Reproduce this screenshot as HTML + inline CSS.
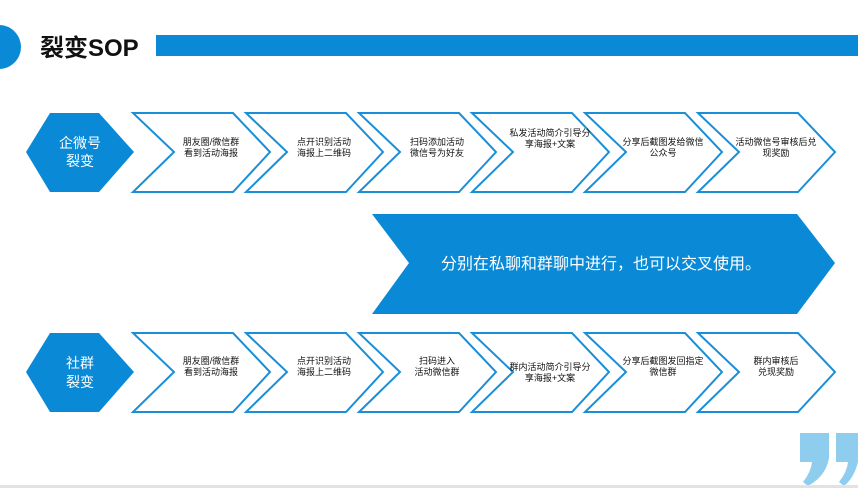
<!DOCTYPE html>
<html><head><meta charset="utf-8"><style>
html,body{margin:0;padding:0;background:#fff;}
svg{display:block;}
text{font-family:"Liberation Sans","Noto Sans CJK SC",sans-serif;}
</style></head><body>
<svg width="858" height="488" viewBox="0 0 858 488" xmlns="http://www.w3.org/2000/svg">
<circle cx="-1" cy="47" r="22" fill="#0a8ad6"/>
<text x="40" y="56" font-size="24" font-weight="bold" fill="#111">裂变SOP</text>
<rect x="156" y="35" width="702" height="21" fill="#0a8ad6"/>

<!-- top row -->
<polygon points="26,152 50,113 99,113 134,152 99,192 50,192" fill="#0a8ad6"/>
<text x="80" y="148" font-size="14" fill="#fff" text-anchor="middle">企微号</text>
<text x="80" y="166" font-size="14" fill="#fff" text-anchor="middle">裂变</text>
<g fill="none" stroke="#1a8fd8" stroke-width="2">
<polygon points="133,113 233,113 270,152 233,192 133,192 174,152"/>
<polygon points="246,113 346,113 383,152 346,192 246,192 287,152"/>
<polygon points="359,113 459,113 496,152 459,192 359,192 400,152"/>
<polygon points="472,113 572,113 609,152 572,192 472,192 513,152"/>
<polygon points="585,113 685,113 722,152 685,192 585,192 626,152"/>
<polygon points="698,113 798,113 835,152 798,192 698,192 739,152"/>
</g>
<g font-size="9" fill="#111" text-anchor="middle">
<text x="211" y="145">朋友圈/微信群</text><text x="211" y="156">看到活动海报</text>
<text x="324" y="145">点开识别活动</text><text x="324" y="156">海报上二维码</text>
<text x="437" y="145">扫码添加活动</text><text x="437" y="156">微信号为好友</text>
<text x="550" y="136">私发活动简介引导分</text><text x="550" y="147">享海报+文案</text>
<text x="663" y="145">分享后截图发给微信</text><text x="663" y="156">公众号</text>
<text x="776" y="145">活动微信号审核后兑</text><text x="776" y="156">现奖励</text>
</g>

<!-- big arrow -->
<polygon points="372,214 797,214 835,263 797,314 372,314 409,263" fill="#0a8ad6"/>
<text x="601" y="269" font-size="16" fill="#fff" text-anchor="middle">分别在私聊和群聊中进行，也可以交叉使用。</text>

<!-- bottom row -->
<polygon points="26,372 50,333 99,333 134,372 99,412 50,412" fill="#0a8ad6"/>
<text x="80" y="368" font-size="14" fill="#fff" text-anchor="middle">社群</text>
<text x="80" y="387" font-size="14" fill="#fff" text-anchor="middle">裂变</text>
<g fill="none" stroke="#1a8fd8" stroke-width="2">
<polygon points="133,333 233,333 270,372 233,412 133,412 174,372"/>
<polygon points="246,333 346,333 383,372 346,412 246,412 287,372"/>
<polygon points="359,333 459,333 496,372 459,412 359,412 400,372"/>
<polygon points="472,333 572,333 609,372 572,412 472,412 513,372"/>
<polygon points="585,333 685,333 722,372 685,412 585,412 626,372"/>
<polygon points="698,333 798,333 835,372 798,412 698,412 739,372"/>
</g>
<g font-size="9" fill="#111" text-anchor="middle">
<text x="211" y="364">朋友圈/微信群</text><text x="211" y="375">看到活动海报</text>
<text x="324" y="364">点开识别活动</text><text x="324" y="375">海报上二维码</text>
<text x="437" y="364">扫码进入</text><text x="437" y="375">活动微信群</text>
<text x="550" y="370">群内活动简介引导分</text><text x="550" y="381">享海报+文案</text>
<text x="663" y="364">分享后截图发回指定</text><text x="663" y="375">微信群</text>
<text x="776" y="364">群内审核后</text><text x="776" y="375">兑现奖励</text>
</g>

<!-- quote -->
<g fill="#8fcdef">
<path d="M800,433 L829,433 L829,458 Q826,476 808,486 L803,482 Q811,472 812,462 L800,462 Z"/>
<path d="M836,433 L858,433 L858,462 Q854,478 844,486 L839,482 Q847,472 848,462 L836,462 Z"/>
</g>
<rect x="0" y="485" width="858" height="3" fill="#e2e2e2"/>
</svg>
</body></html>
